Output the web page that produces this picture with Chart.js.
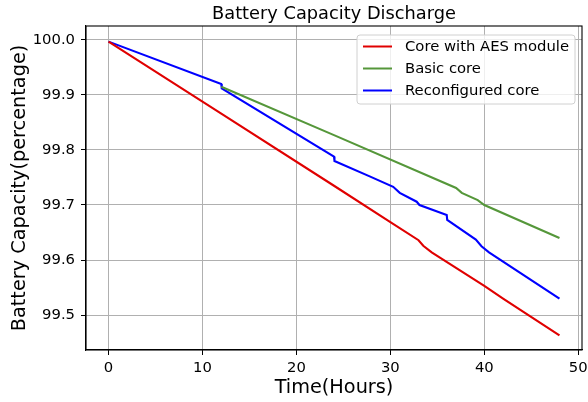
<!DOCTYPE html>
<html>
<head>
<meta charset="utf-8">
<script src="https://cdn.jsdelivr.net/npm/chart.js@4.4.1/dist/chart.umd.min.js"></script>
<style>
    html, body { margin: 0; padding: 0; background: #fff; }
    #wrap { width: 588px; height: 402px; }
</style>
</head>
<body>
<div id="wrap"><canvas id="batteryChart" width="588" height="402"></canvas></div>
<script>
// Values
const aesHours = [0, 12, 24, 30, 33, 33.5, 34.4, 40, 42, 48];
const aesCapacity = [99.997, 99.866, 99.735, 99.669, 99.636, 99.626, 99.614, 99.553, 99.530, 99.463];

const basicHours = [12, 24, 37, 37.6, 39.3, 40, 48];
const basicCapacity = [99.915, 99.827, 99.731, 99.722, 99.709, 99.700, 99.640];

const reconfHours = [0, 12, 12.05, 24, 24.05, 27.8, 30.3, 31, 32.8, 33.1, 36, 36.05, 39.1, 39.7, 40.5, 48];
const reconfCapacity = [99.997, 99.920, 99.912, 99.788, 99.780, 99.752, 99.733, 99.722, 99.706, 99.700, 99.682, 99.673, 99.637, 99.625, 99.614, 99.530];

const xTicks = [0, 10, 20, 30, 40, 50];
const yTicks = [99.5, 99.6, 99.7, 99.8, 99.9, 100.0];

const FONT = "'DejaVu Sans', sans-serif";

function toPoints(xs, ys) {
    return xs.map((x, i) => ({ x: x, y: ys[i] }));
}

const series = [
    { label: 'Core with AES module', color: '#e00000', xs: aesHours, ys: aesCapacity },
    { label: 'Basic core', color: '#55973a', xs: basicHours, ys: basicCapacity },
    { label: 'Reconfigured core', color: '#0000ff', xs: reconfHours, ys: reconfCapacity }
];

// frame, title, axis titles and legend drawn like the matplotlib original
const decorations = {
    id: 'decorations',
    afterDraw(chart) {
        const ctx = chart.ctx;
        const a = chart.chartArea;
        ctx.save();
        ctx.strokeStyle = '#000';
        ctx.lineWidth = 1.1;
        ctx.strokeRect(a.left, a.top, a.right - a.left, a.bottom - a.top);

        const cx = (a.left + a.right) / 2;
        ctx.fillStyle = '#000';
        ctx.textAlign = 'center';
        ctx.textBaseline = 'alphabetic';
        ctx.font = '17.8px ' + FONT;
        ctx.fillText('Battery Capacity Discharge', cx, 19);

        ctx.font = '19.3px ' + FONT;
        ctx.fillText('Time(Hours)', cx, 393);

        ctx.save();
        ctx.translate(25, (a.top + a.bottom) / 2);
        ctx.rotate(-Math.PI / 2);
        ctx.fillText('Battery Capacity(percentage)', 0, 0);
        ctx.restore();

        // legend box
        const lx = 357, ly = 35, lw = 218, lh = 69;
        ctx.beginPath();
        ctx.roundRect(lx, ly, lw, lh, 3);
        ctx.fillStyle = 'rgba(255,255,255,0.8)';
        ctx.fill();
        ctx.strokeStyle = '#d0d0d0';
        ctx.lineWidth = 1;
        ctx.stroke();

        ctx.font = '14.8px ' + FONT;
        ctx.textAlign = 'left';
        ctx.textBaseline = 'middle';
        series.forEach((s, i) => {
            const y = 46.5 + i * 22;
            ctx.strokeStyle = s.color;
            ctx.lineWidth = 2;
            ctx.beginPath();
            ctx.moveTo(363, y);
            ctx.lineTo(392, y);
            ctx.stroke();
            ctx.fillStyle = '#000';
            ctx.fillText(s.label, 405, y + 1);
        });
        ctx.restore();
    }
};

const ctx = document.getElementById('batteryChart').getContext('2d');
const chart = new Chart(ctx, {
    type: 'line',
    data: {
        datasets: series.map(s => ({
            label: s.label,
            data: toPoints(s.xs, s.ys),
            borderColor: s.color,
            backgroundColor: s.color,
            borderWidth: 2.1,
            pointRadius: 0,
            tension: 0,
            fill: false
        }))
    },
    options: {
        responsive: false,
        animation: false,
        layout: { autoPadding: false, padding: { top: 26, right: 6, left: 0, bottom: 0 } },
        plugins: {
            legend: { display: false },
            title: { display: false },
            tooltip: { enabled: false }
        },
        scales: {
            x: {
                type: 'linear',
                min: -2.4,
                max: 50.4,
                afterBuildTicks: scale => { scale.ticks = xTicks.map(v => ({ value: v })); },
                afterFit: scale => {
                    scale.height = 52;
                    scale.paddingLeft = 0;
                    scale.paddingRight = 0;
                },
                grid: { color: '#b0b0b0', lineWidth: 1, tickLength: 5, tickColor: '#000' },
                border: { display: true, color: '#000', width: 1.1 },
                ticks: {
                    color: '#000',
                    font: { family: FONT, size: 14.8 },
                    padding: 4,
                    maxRotation: 0,
                    callback: v => String(v)
                }
            },
            y: {
                type: 'linear',
                min: 99.4364,
                max: 100.0254,
                afterBuildTicks: scale => { scale.ticks = yTicks.map(v => ({ value: v })); },
                afterFit: scale => {
                    scale.width = 86;
                    scale.paddingTop = 0;
                    scale.paddingBottom = 0;
                },
                grid: { color: '#b0b0b0', lineWidth: 1, tickLength: 5, tickColor: '#000' },
                border: { display: true, color: '#000', width: 1.1 },
                ticks: {
                    color: '#000',
                    font: { family: FONT, size: 14.8 },
                    padding: 6,
                    callback: v => v.toFixed(1)
                }
            }
        }
    },
    plugins: [decorations]
});
</script>
</body>
</html>
